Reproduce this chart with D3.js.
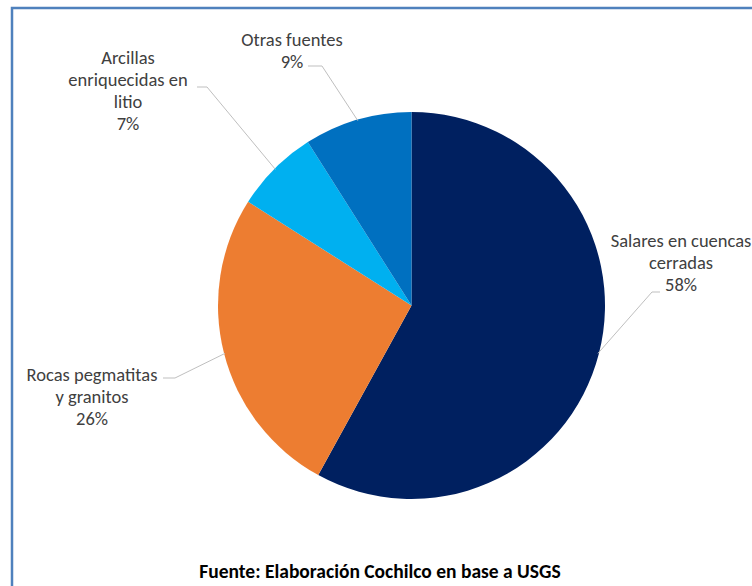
<!DOCTYPE html>
<html>
<head>
<meta charset="utf-8">
<script src="https://cdn.jsdelivr.net/npm/d3@7"></script>
<style>
  html, body { margin: 0; padding: 0; background: #ffffff; }
  svg { display: block; }
</style>
</head>
<body>
<svg id="chart" width="752" height="586"></svg>
<script>
// Fuentes de litio: participación por tipo de depósito
const categories = [
  ["Salares en cuencas", "cerradas"],
  ["Rocas pegmatitas", "y granitos"],
  ["Arcillas", "enriquecidas en", "litio"],
  ["Otras fuentes"]
];
const shares = [58, 26, 7, 9];
const sliceColors = ["#002060", "#ED7D31", "#00B0F0", "#0070C0"];
const sourceNote = "Fuente: Elaboración Cochilco en base a USGS";

// Label blocks: anchor (centre x, first baseline) and leader elbow
const labelLayout = [
  { x: 681, y: 247, elbow: [[660, 292], [652, 292]] },
  { x: 92,  y: 381, elbow: [[163, 378], [175, 378]] },
  { x: 128, y: 64,  elbow: [[197, 87],  [207, 87]] },
  { x: 292, y: 46,  elbow: [[308, 66],  [322, 66]] }
];

const svg = d3.select("#chart");
const font = "Carlito, Lato, sans-serif";

// Frame: blue border on the top and left edges
svg.append("rect")
  .attr("x", 12).attr("y", 8)
  .attr("width", 760).attr("height", 600)
  .attr("fill", "none")
  .attr("stroke", "#4F81BD")
  .attr("stroke-width", 2.5);

const cx = 411.5, cy = 305.5, r = 193.5;
const g = svg.append("g").attr("transform", `translate(${cx},${cy})`);

const pie = d3.pie().sort(null).value(d => d);
const arcs = pie(shares);
const arc = d3.arc().innerRadius(0).outerRadius(r);

g.selectAll("path.slice")
  .data(arcs)
  .join("path")
  .attr("class", "slice")
  .attr("d", arc)
  .attr("fill", (d, i) => sliceColors[i]);

// Leader lines from each slice's outer midpoint to its label
const edge = d3.arc().innerRadius(r - 1).outerRadius(r - 1);
arcs.forEach((d, i) => {
  const [ex, ey] = edge.centroid(d);
  const L = labelLayout[i];
  const pts = [[cx + ex, cy + ey], L.elbow[1], L.elbow[0]];
  svg.append("path")
    .attr("d", d3.line()(pts))
    .attr("fill", "none")
    .attr("stroke", "#BFBFBF")
    .attr("stroke-width", 1);
});

// Category names and percentages
arcs.forEach((d, i) => {
  const L = labelLayout[i];
  const lines = categories[i].concat([shares[i] + "%"]);
  const t = svg.append("text")
    .attr("x", L.x).attr("y", L.y)
    .attr("text-anchor", "middle")
    .attr("font-family", font)
    .attr("font-size", 18.5)
    .attr("fill", "#404040");
  lines.forEach((s, k) => {
    t.append("tspan")
      .attr("x", L.x)
      .attr("dy", k === 0 ? 0 : 22)
      .text(s);
  });
});

svg.append("text")
  .attr("x", 380).attr("y", 578)
  .attr("text-anchor", "middle")
  .attr("font-family", font)
  .attr("font-size", 19.5)
  .attr("font-weight", "bold")
  .attr("fill", "#000000")
  .text(sourceNote);
</script>
</body>
</html>
